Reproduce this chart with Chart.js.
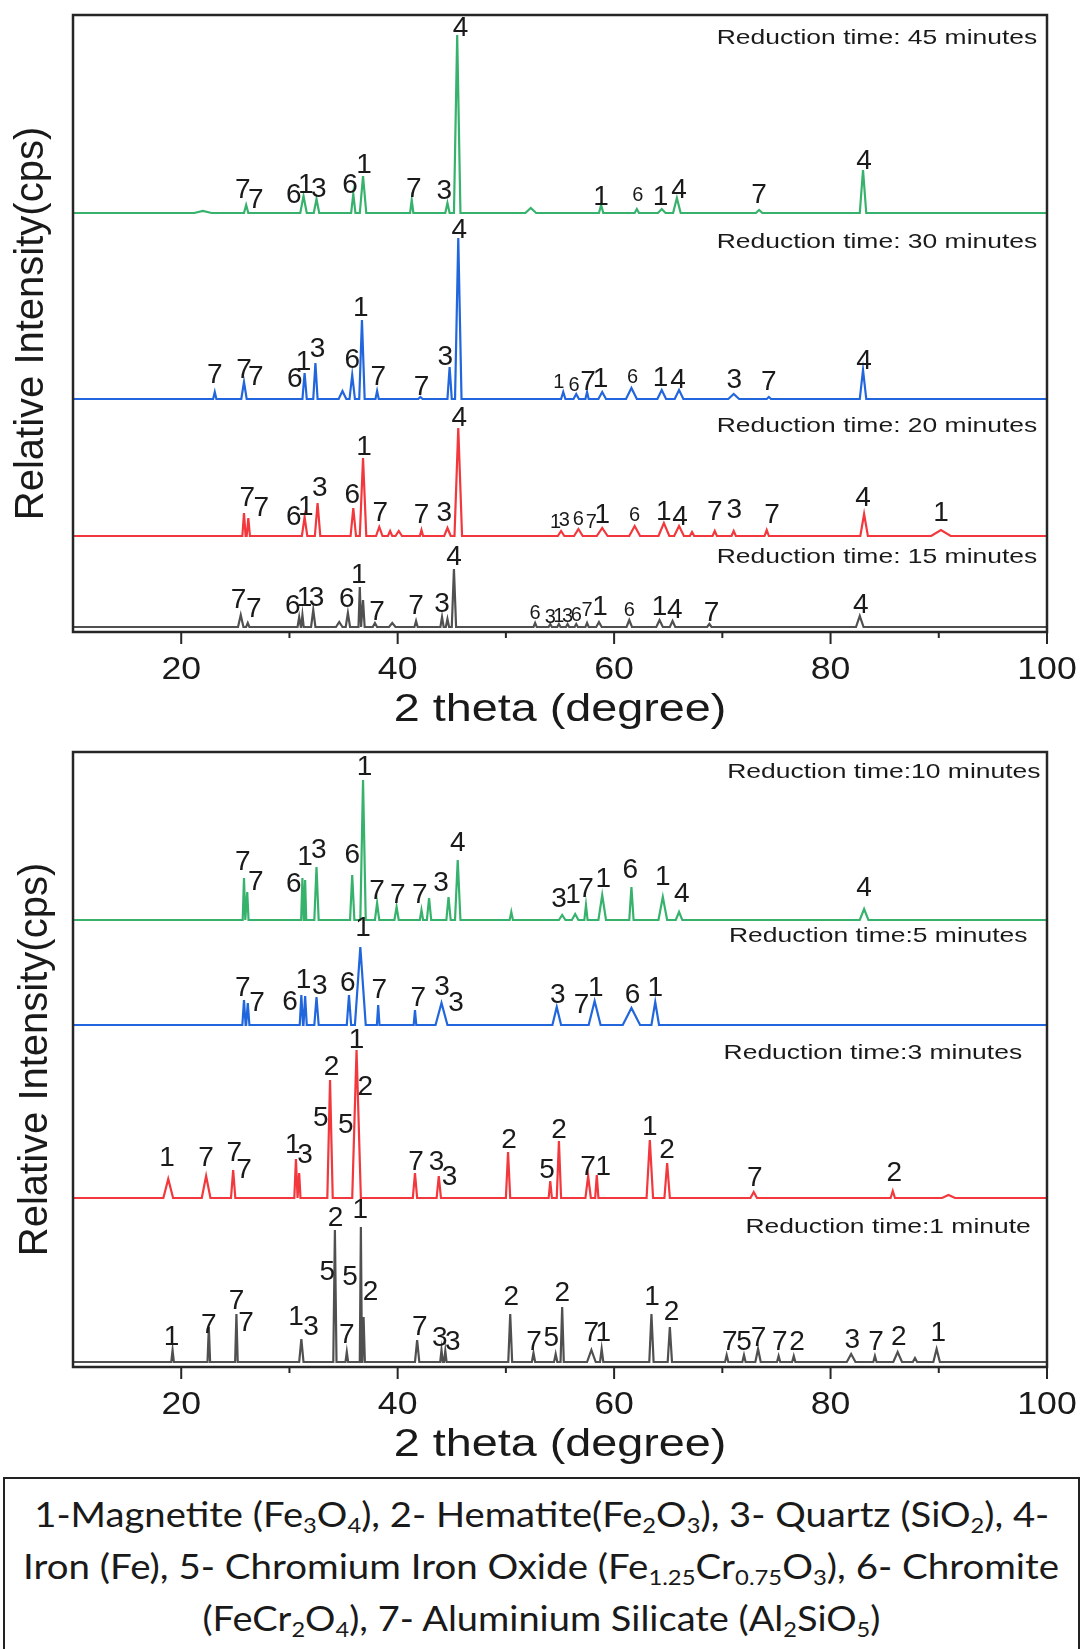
<!DOCTYPE html>
<html>
<head>
<meta charset="utf-8">
<script src="https://cdn.jsdelivr.net/npm/chart.js@4.4.1/dist/chart.umd.min.js"></script>
<style>
  body { margin: 0; background: #fff; width: 1082px; height: 1649px; position: relative; overflow: hidden; }
  #topWrap { position: absolute; left: 0; top: 0; }
  #botWrap { position: absolute; left: 0; top: 745px; }
  #key {
    position: absolute; left: 3px; top: 1477px; width: 1073px; height: 220px;
    border: 2px solid #222; text-align: center; color: #1a1a1a;
    font-family: Lato, "Liberation Sans", sans-serif;
    font-size: 34px; line-height: 52px; padding-top: 9px;
  }
  #key .kl { display: inline-block; white-space: nowrap; transform-origin: 50% 50%; }
  #key sub { font-size: 0.62em; line-height: 0; vertical-align: -0.28em; }
</style>
</head>
<body>
<div id="topWrap"><canvas id="topChart" width="1082" height="745"></canvas></div>
<div id="botWrap"><canvas id="botChart" width="1082" height="732"></canvas></div>
<div id="key"><span class="kl">1-Magnetite (Fe<sub>3</sub>O<sub>4</sub>), 2- Hematite(Fe<sub>2</sub>O<sub>3</sub>), 3- Quartz (SiO<sub>2</sub>), 4-</span><br><span class="kl">Iron (Fe), 5- Chromium Iron Oxide (Fe<sub>1.25</sub>Cr<sub>0.75</sub>O<sub>3</sub>), 6- Chromite</span><br><span class="kl">(FeCr<sub>2</sub>O<sub>4</sub>), 7- Aluminium Silicate (Al<sub>2</sub>SiO<sub>5</sub>)</span></div>

<script>
const X_MIN = 10;
const X_MAX = 100;
const majorTicks = [20, 40, 60, 80, 100];
const minorTicks = [30, 50, 70, 90];
const xTitle = "2 theta (degree)";
const yTitle = "Relative Intensity(cps)";

const GREEN = "#37b26c";
const BLUE = "#2166dc";
const RED = "#f2383c";
const GREY = "#505050";

// peaks: [2theta, height above baseline, half width]
// ---- top panel ----
const base45 = 419;
const peaks45 = [[22.0, 2, 0.8], [26.0, 8, 0.2], [31.3, 17, 0.3], [32.5, 14, 0.25], [35.9, 19, 0.2], [36.8, 37, 0.3],
  [41.3, 13, 0.15], [44.6, 10, 0.2], [45.5, 178, 0.3], [52.3, 5, 0.5], [58.8, 8, 0.2], [62.1, 4, 0.2],
  [64.4, 4, 0.35], [65.8, 15, 0.35], [73.4, 3, 0.3], [83.0, 43, 0.3]];
const labels45 = [[25.7, 442, "7"], [26.9, 432, "7"], [30.4, 437, "6"], [31.5, 447, "1"], [32.7, 443, "3"], [35.6, 447, "6"],
  [36.9, 467, "1"], [41.5, 443, "7"], [44.3, 441, "3"], [45.8, 604, "4"], [58.8, 435, "1"], [64.3, 435, "1"],
  [66.0, 442, "4"], [73.4, 437, "7"], [83.1, 471, "4"]];
const small45 = [[62.2, 437, "6"]];

const base30 = 233;
const peaks30 = [[23.1, 7, 0.15], [25.8, 17, 0.25], [31.4, 26, 0.2], [32.4, 36, 0.2], [34.9, 8, 0.35], [35.8, 24, 0.25],
  [36.7, 79, 0.25], [38.1, 8, 0.15], [42.1, 2, 0.2], [44.8, 32, 0.2], [45.6, 161, 0.3], [55.3, 7, 0.2],
  [56.5, 5, 0.25], [57.5, 7, 0.15], [58.9, 7, 0.35], [61.6, 11, 0.5], [64.4, 9, 0.4], [66.0, 9, 0.4],
  [71.05, 5, 0.5], [74.3, 2, 0.2], [83.0, 29, 0.3]];
const labels30 = [[23.1, 257, "7"], [25.8, 262, "7"], [26.9, 255, "7"], [30.5, 253, "6"], [31.3, 270, "1"], [32.6, 283, "3"],
  [35.8, 272, "6"], [36.6, 324, "1"], [38.2, 255, "7"], [42.2, 245, "7"], [44.4, 275, "3"], [45.7, 402, "4"],
  [57.6, 250, "7"], [58.75, 253, "1"], [64.3, 254, "1"], [65.9, 252, "4"], [71.1, 252, "3"], [74.3, 250, "7"],
  [83.1, 271, "4"]];
const small30 = [[54.9, 250, "1"], [56.3, 247, "6"], [61.7, 255, "6"]];

const base20 = 96;
const peaks20 = [[25.8, 23, 0.15], [26.2, 18, 0.15], [31.4, 19, 0.25], [32.6, 33, 0.25], [35.9, 28, 0.25], [36.8, 78, 0.3],
  [38.3, 9, 0.3], [39.3, 5, 0.2], [40.1, 5, 0.3], [42.2, 6, 0.15], [44.6, 8, 0.3], [45.6, 108, 0.35],
  [55.1, 5, 0.3], [56.7, 7, 0.4], [58.9, 8, 0.5], [61.9, 10, 0.5], [64.6, 13, 0.5], [66.0, 10, 0.45],
  [67.2, 4, 0.2], [69.3, 5, 0.2], [71.05, 5, 0.2], [74.1, 6, 0.2], [83.1, 22, 0.35], [90.2, 6, 0.9]];
const labels20 = [[26.1, 134, "7"], [27.4, 124, "7"], [30.4, 115, "6"], [31.5, 125, "1"], [32.8, 144, "3"], [35.8, 137, "6"],
  [36.9, 185, "1"], [38.4, 119, "7"], [42.2, 117, "7"], [44.3, 119, "3"], [45.7, 214, "4"], [58.9, 117, "1"],
  [64.6, 120, "1"], [66.1, 115, "4"], [69.3, 120, "7"], [71.1, 122, "3"], [74.6, 117, "7"], [83.0, 134, "4"],
  [90.2, 119, "1"]];
const small20 = [[54.6, 110, "1"], [55.4, 112, "3"], [56.7, 113, "6"], [57.9, 110, "7"], [61.9, 117, "6"]];

const base15 = 5;
const peaks15 = [[25.5, 12, 0.25], [26.15, 4, 0.15], [30.9, 10, 0.15], [31.2, 12, 0.12], [32.2, 17, 0.2], [34.6, 5, 0.3],
  [35.4, 14, 0.2], [36.5, 40, 0.12], [36.8, 27, 0.15], [37.9, 4, 0.2], [39.5, 4, 0.3], [41.7, 6, 0.15],
  [44.1, 10, 0.15], [44.6, 8, 0.15], [45.2, 58, 0.2], [52.7, 4, 0.15], [54.1, 3, 0.15], [54.9, 3, 0.15],
  [55.7, 3, 0.15], [56.5, 3, 0.15], [57.5, 4, 0.15], [58.6, 5, 0.25], [61.4, 7, 0.25], [64.2, 7, 0.3],
  [65.4, 6, 0.25], [68.8, 3, 0.2], [82.7, 11, 0.35]];
const labels15 = [[25.3, 32, "7"], [26.7, 23, "7"], [30.3, 26, "6"], [31.4, 34, "1"], [32.5, 34, "3"], [35.3, 33, "6"],
  [36.4, 57, "1"], [38.1, 20, "7"], [41.7, 26, "7"], [44.1, 28, "3"], [45.2, 75, "4"], [58.7, 25, "1"],
  [64.2, 25, "1"], [65.6, 22, "4"], [69.0, 19, "7"], [82.8, 27, "4"]];
const small15 = [[52.7, 19, "6"], [54.1, 15, "3"], [54.9, 16, "1"], [55.7, 16, "3"], [56.5, 17, "6"], [57.5, 22, "7"],
  [61.4, 22, "6"]];

const captionsTop = [[99.1, 594, "Reduction time: 45 minutes"], [99.1, 390, "Reduction time: 30 minutes"],
  [99.1, 206, "Reduction time: 20 minutes"], [99.1, 75, "Reduction time: 15 minutes"]];

// ---- bottom panel ----
const base10 = 447;
const peaks10 = [[25.8, 42, 0.12], [26.1, 28, 0.12], [31.2, 42, 0.12], [31.45, 40, 0.1], [32.5, 53, 0.2], [35.8, 45, 0.2],
  [36.8, 140, 0.25], [38.1, 17, 0.2], [39.9, 13, 0.2], [42.2, 10, 0.15], [42.9, 22, 0.2], [44.7, 23, 0.2],
  [45.55, 60, 0.25], [50.5, 8, 0.15], [55.2, 5, 0.3], [56.4, 6, 0.3], [57.4, 15, 0.15], [58.9, 25, 0.35],
  [61.6, 33, 0.2], [64.5, 23, 0.4], [66.0, 8, 0.3], [83.1, 11, 0.4]];
const labels10 = [[25.7, 505, "7"], [26.9, 485, "7"], [30.4, 483, "6"], [31.45, 510, "1"], [32.7, 517, "3"], [35.8, 512, "6"],
  [36.95, 600, "1"], [38.1, 476, "7"], [40.0, 472, "7"], [42.05, 472, "7"], [44.0, 484, "3"], [45.55, 524, "4"],
  [54.9, 468, "3"], [56.2, 472, "1"], [57.4, 478, "7"], [59.0, 488, "1"], [61.5, 497, "6"], [64.5, 490, "1"],
  [66.25, 473, "4"], [83.1, 479, "4"]];

const base5 = 342;
const peaks5 = [[25.8, 25, 0.15], [26.15, 22, 0.15], [31.1, 30, 0.15], [31.45, 29, 0.15], [32.5, 28, 0.2], [35.5, 30, 0.2],
  [36.55, 78, 0.5], [38.2, 20, 0.12], [41.6, 15, 0.12], [44.05, 22, 0.55], [54.7, 18, 0.4], [58.2, 24, 0.55],
  [61.6, 17, 0.8], [63.8, 23, 0.35]];
const labels5 = [[25.7, 379, "7"], [27.0, 364, "7"], [30.05, 365, "6"], [31.3, 387, "1"], [32.8, 381, "3"], [35.4, 384, "6"],
  [36.8, 439, "1"], [38.3, 377, "7"], [41.9, 369, "7"], [44.1, 380, "3"], [45.4, 364, "3"], [54.8, 372, "3"],
  [57.0, 362, "7"], [58.3, 379, "1"], [61.7, 372, "6"], [63.8, 379, "1"]];

const base3 = 169;
const peaks3 = [[18.8, 19, 0.45], [22.3, 22, 0.4], [24.8, 28, 0.2], [30.6, 39, 0.15], [30.9, 25, 0.12], [33.75, 118, 0.25],
  [36.2, 148, 0.4], [41.6, 25, 0.2], [43.8, 22, 0.2], [50.2, 46, 0.2], [54.1, 17, 0.15], [54.9, 57, 0.2],
  [57.6, 22, 0.25], [58.4, 23, 0.15], [63.3, 58, 0.3], [64.9, 35, 0.25], [72.9, 6, 0.3], [85.75, 7, 0.2],
  [90.9, 3, 0.6]];
const labels3 = [[18.7, 209, "1"], [22.3, 209, "7"], [24.9, 214, "7"], [25.8, 197, "7"], [30.3, 222, "1"], [31.45, 212, "3"],
  [32.9, 249, "5"], [33.9, 300, "2"], [35.2, 242, "5"], [36.2, 327, "1"], [37.0, 280, "2"], [41.7, 205, "7"],
  [43.6, 205, "3"], [44.8, 190, "3"], [50.3, 227, "2"], [53.8, 197, "5"], [54.9, 237, "2"], [57.6, 200, "7"],
  [59.0, 200, "1"], [63.3, 240, "1"], [64.9, 217, "2"], [73.0, 189, "7"], [85.9, 194, "2"]];

const base1 = 5;
const peaks1 = [[19.2, 12, 0.12], [22.55, 35, 0.12], [25.1, 48, 0.12], [31.1, 23, 0.2], [34.2, 132, 0.15], [35.3, 10, 0.12],
  [36.6, 135, 0.1], [36.85, 45, 0.12], [41.8, 22, 0.2], [44.05, 12, 0.12], [44.4, 11, 0.12], [50.4, 48, 0.18],
  [52.55, 9, 0.15], [54.6, 8, 0.15], [55.2, 55, 0.15], [57.9, 12, 0.4], [58.85, 13, 0.15], [63.45, 48, 0.2],
  [65.15, 35, 0.2], [70.4, 7, 0.15], [72.0, 7, 0.15], [73.3, 13, 0.25], [75.2, 6, 0.15], [76.6, 6, 0.15],
  [81.9, 8, 0.4], [84.1, 6, 0.15], [86.2, 10, 0.4], [87.8, 4, 0.2], [89.8, 13, 0.3]];
const labels1 = [[19.1, 30, "1"], [22.55, 42, "7"], [25.1, 66, "7"], [26.0, 44, "7"], [30.6, 50, "1"], [32.0, 40, "3"],
  [33.5, 95, "5"], [34.25, 149, "2"], [35.3, 32, "7"], [35.6, 90, "5"], [36.55, 157, "1"], [37.5, 75, "2"],
  [42.05, 40, "7"], [43.9, 29, "3"], [45.1, 25, "3"], [50.5, 70, "2"], [52.6, 25, "7"], [54.2, 29, "5"],
  [55.2, 74, "2"], [57.9, 34, "7"], [59.0, 34, "1"], [63.5, 70, "1"], [65.3, 55, "2"], [70.7, 25, "7"],
  [72.0, 25, "5"], [73.35, 29, "7"], [75.3, 25, "7"], [76.9, 25, "2"], [82.0, 27, "3"], [84.2, 25, "7"],
  [86.3, 30, "2"], [89.95, 34, "1"]];

const captionsBottom = [[99.4, 595, "Reduction time:10 minutes"], [98.2, 431, "Reduction time:5 minutes"],
  [97.7, 314, "Reduction time:3 minutes"], [98.5, 140, "Reduction time:1 minute"]];

// baseline + triangular peaks -> points for the line
function trace(base, peaks) {
  let pts = [{ x: X_MIN, y: base }];
  for (let i = 0; i < peaks.length; i++) {
    let p = peaks[i];
    pts.push({ x: p[0] - p[2], y: base });
    pts.push({ x: p[0], y: base + p[1] });
    pts.push({ x: p[0] + p[2], y: base });
  }
  pts.push({ x: X_MAX, y: base });
  return pts;
}

function line(base, peaks, color) {
  return { data: trace(base, peaks), borderColor: color, borderWidth: 2.2, pointRadius: 0, fill: false, tension: 0 };
}

function wideText(ctx, text, x, y, sx) {
  ctx.save();
  ctx.translate(x, y);
  ctx.scale(sx, 1);
  ctx.fillText(text, 0, 0);
  ctx.restore();
}

const xrdDecor = {
  id: "xrdDecor",
  afterDatasetsDraw(chart, args, opts) {
    let ctx = chart.ctx;
    let a = chart.chartArea;
    let xs = chart.scales.x;
    let ys = chart.scales.y;
    ctx.save();

    // box
    ctx.strokeStyle = "#262626";
    ctx.lineWidth = 2.5;
    ctx.strokeRect(a.left, a.top, a.right - a.left, a.bottom - a.top);

    // ticks and tick labels
    ctx.lineWidth = 2;
    ctx.fillStyle = "#1a1a1a";
    ctx.font = "31px 'Liberation Sans', Arial, sans-serif";
    ctx.textAlign = "center";
    ctx.textBaseline = "middle";
    for (let i = 0; i < majorTicks.length; i++) {
      let px = xs.getPixelForValue(majorTicks[i]);
      ctx.beginPath(); ctx.moveTo(px, a.bottom); ctx.lineTo(px, a.bottom + 12); ctx.stroke();
      wideText(ctx, String(majorTicks[i]), px, a.bottom + 38, 1.15);
    }
    for (let i = 0; i < minorTicks.length; i++) {
      let px = xs.getPixelForValue(minorTicks[i]);
      ctx.beginPath(); ctx.moveTo(px, a.bottom); ctx.lineTo(px, a.bottom + 6); ctx.stroke();
    }

    // axis titles
    ctx.font = "38px 'Liberation Sans', Arial, sans-serif";
    wideText(ctx, xTitle, (a.left + a.right) / 2, a.bottom + 79, 1.23);
    ctx.font = "40px 'Liberation Sans', Arial, sans-serif";
    ctx.save();
    ctx.translate(a.left - opts.yTitleGap, (a.top + a.bottom) / 2);
    ctx.rotate(-Math.PI / 2);
    ctx.fillText(yTitle, 0, 0);
    ctx.restore();

    // peak labels
    ctx.font = "28px 'Liberation Sans', Arial, sans-serif";
    for (let g = 0; g < opts.labels.length; g++) {
      let list = opts.labels[g];
      for (let i = 0; i < list.length; i++) {
        ctx.fillText(list[i][2], xs.getPixelForValue(list[i][0]), ys.getPixelForValue(list[i][1]));
      }
    }
    ctx.font = "20px 'Liberation Sans', Arial, sans-serif";
    for (let g = 0; g < opts.small.length; g++) {
      let list = opts.small[g];
      for (let i = 0; i < list.length; i++) {
        ctx.fillText(list[i][2], xs.getPixelForValue(list[i][0]), ys.getPixelForValue(list[i][1]));
      }
    }

    // reduction time captions, right aligned
    ctx.font = "21px 'Liberation Sans', Arial, sans-serif";
    ctx.textAlign = "right";
    for (let i = 0; i < opts.captions.length; i++) {
      let c = opts.captions[i];
      wideText(ctx, c[2], xs.getPixelForValue(c[0]), ys.getPixelForValue(c[1]), 1.26);
    }
    ctx.restore();
  }
};

function makeChart(id, datasets, yMax, pad, deco) {
  return new Chart(document.getElementById(id), {
    type: "line",
    data: { datasets: datasets },
    options: {
      responsive: false,
      animation: false,
      events: [],
      layout: { padding: pad },
      plugins: { legend: { display: false }, tooltip: { enabled: false }, xrdDecor: deco },
      scales: {
        x: { type: "linear", min: X_MIN, max: X_MAX, display: false },
        y: { type: "linear", min: 0, max: yMax, display: false }
      }
    },
    plugins: [xrdDecor]
  });
}

makeChart("topChart",
  [line(base45, peaks45, GREEN), line(base30, peaks30, BLUE), line(base20, peaks20, RED), line(base15, peaks15, GREY)],
  617,
  { left: 73, right: 35, top: 15, bottom: 113 },
  { labels: [labels45, labels30, labels20, labels15], small: [small45, small30, small20, small15],
    captions: captionsTop, yTitleGap: 41 });

makeChart("botChart",
  [line(base10, peaks10, GREEN), line(base5, peaks5, BLUE), line(base3, peaks3, RED), line(base1, peaks1, GREY)],
  615,
  { left: 73, right: 35, top: 7, bottom: 110 },
  { labels: [labels10, labels5, labels3, labels1], small: [[], [], [], []],
    captions: captionsBottom, yTitleGap: 37 });

// stretch each key line to the width it has in the figure
const keyLineWidths = [1015, 1036, 678];
let keyLines = document.querySelectorAll("#key .kl");
for (let i = 0; i < keyLines.length; i++) {
  let w = keyLines[i].getBoundingClientRect().width;
  keyLines[i].style.transform = "scaleX(" + (keyLineWidths[i] / w) + ")";
}
</script>
</body>
</html>
